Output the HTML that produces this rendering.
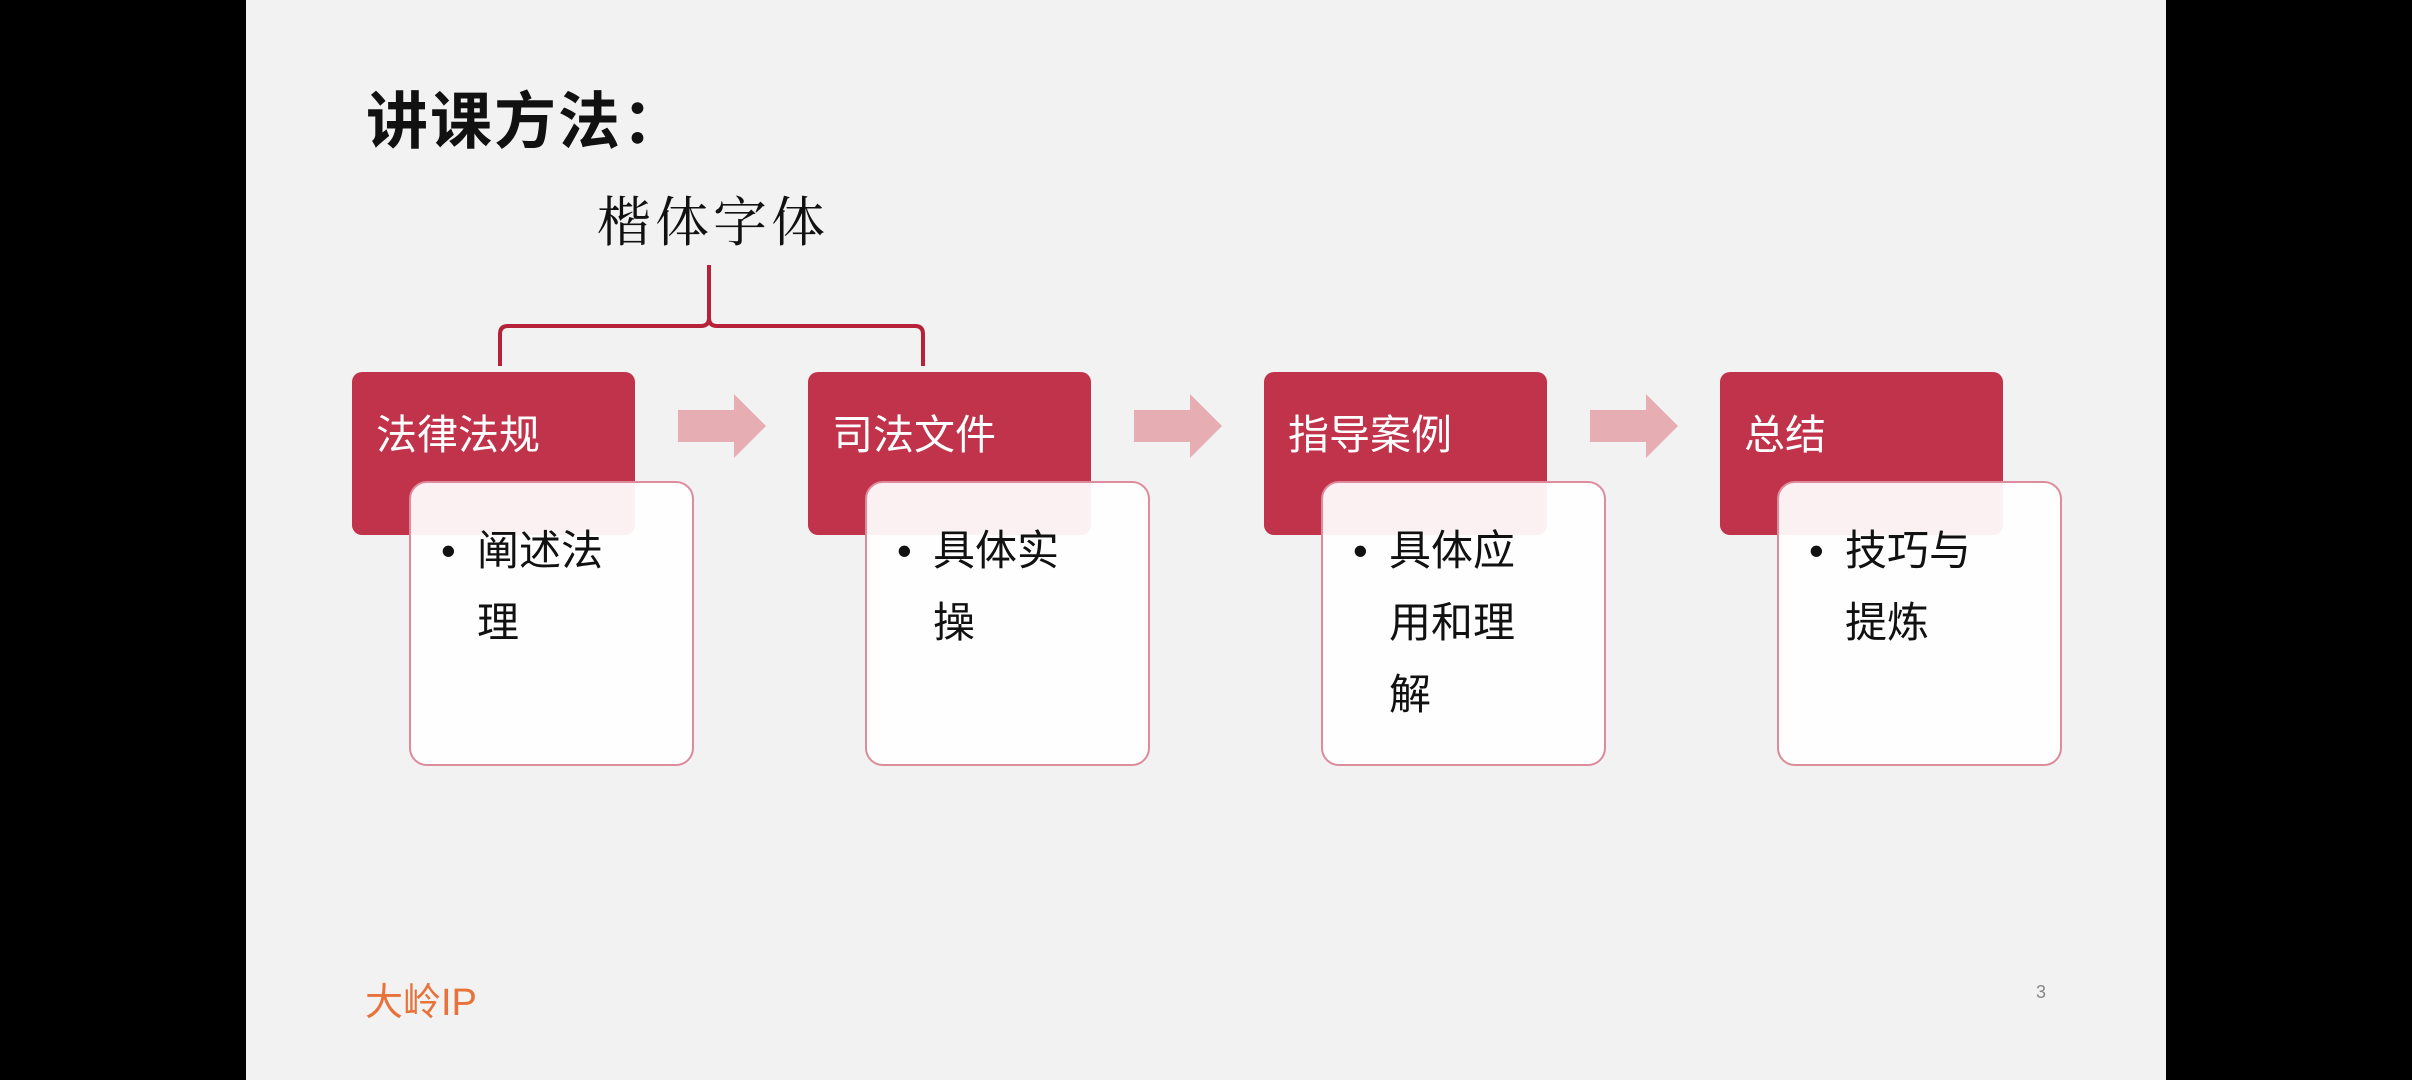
<!DOCTYPE html>
<html><head><meta charset="utf-8"><style>
html,body{margin:0;padding:0;width:2412px;height:1080px;background:#000;overflow:hidden}
#s{position:absolute;left:246px;top:0;width:1920px;height:1080px;background:#f2f2f2;font-family:"Liberation Sans","Noto Sans CJK SC",sans-serif}
.t{position:absolute;left:120px;top:71px;font-size:62px;font-weight:bold;color:#111;letter-spacing:2px}
.k{position:absolute;left:351px;top:180px;font-family:"Noto Serif CJK SC",serif;font-size:54px;color:#111;letter-spacing:4px}
.r{position:absolute;width:283px;height:163px;top:372px;background:#c0334a;border-radius:10px;color:#fff;font-size:41px}
.r span{position:absolute;left:24px;top:29px}
.w{position:absolute;width:281px;height:281px;top:481px;background:rgba(255,255,255,0.93);border:2px solid #dc8c9b;border-radius:18px;font-size:42px;color:#111}
.w div{position:absolute;left:66px;top:32px;line-height:72px;width:200px}
.w b{position:absolute;left:-36px;top:0;font-weight:normal}
.f{position:absolute;left:119px;top:971px;color:#e8733a;font-size:38px}
.n{position:absolute;left:1790px;top:982px;color:#888;font-size:18px}
</style></head><body><div id="s">
<div class="t">讲课方法：</div>
<div class="k">楷体字体</div>
<svg style="position:absolute;left:0;top:0" width="1920" height="1080">
<path d="M463 265 V318 Q463 326 455 326 H262 Q254 326 254 334 V366 M463 318 Q463 326 471 326 H669 Q677 326 677 334 V366" fill="none" stroke="#b5223a" stroke-width="4"/>
<g fill="#e6adb3">
<polygon points="432,410 488,410 488,394 520,426 488,458 488,442 432,442"/>
<polygon points="888,410 944,410 944,394 976,426 944,458 944,442 888,442"/>
<polygon points="1344,410 1400,410 1400,394 1432,426 1400,458 1400,442 1344,442"/>
</g></svg>
<div class="r" style="left:106px"><span>法律法规</span></div>
<div class="r" style="left:562px"><span>司法文件</span></div>
<div class="r" style="left:1018px"><span>指导案例</span></div>
<div class="r" style="left:1474px"><span>总结</span></div>
<div class="w" style="left:163px"><div><b>•</b>阐述法<br>理</div></div>
<div class="w" style="left:619px"><div><b>•</b>具体实<br>操</div></div>
<div class="w" style="left:1075px"><div><b>•</b>具体应<br>用和理<br>解</div></div>
<div class="w" style="left:1531px"><div><b>•</b>技巧与<br>提炼</div></div>
<div class="f">大岭IP</div>
<div class="n">3</div>
</div></body></html>
